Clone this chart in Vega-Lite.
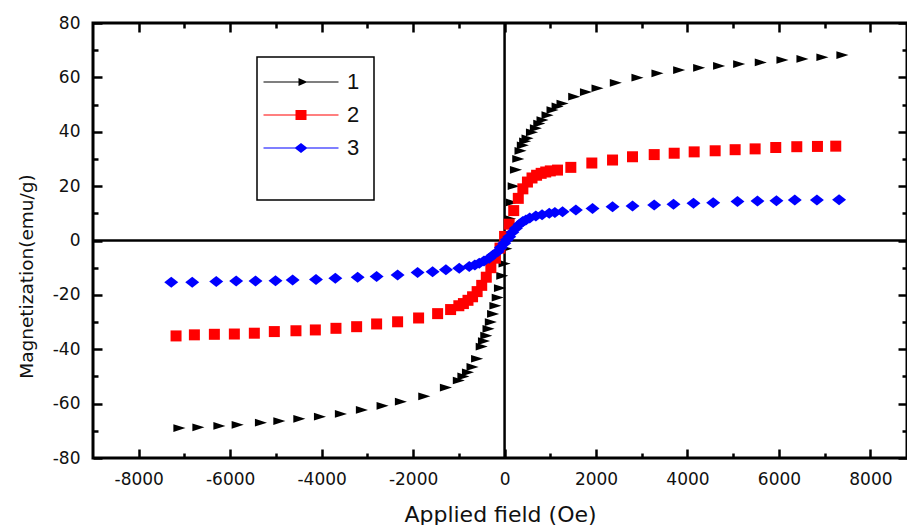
{
  "$schema": "https://vega.github.io/schema/vega-lite/v6.json",
  "width": 814,
  "height": 435,
  "autosize": {"type": "none"},
  "padding": {"left": 93, "top": 23, "right": 0, "bottom": 67},
  "background": "white",
  "config": {
    "view": {"stroke": "black", "strokeWidth": 3},
    "font": "DejaVu Sans",
    "legend": {"strokeWidth": 1.5}
  },
  "datasets": {
    "pts": [
      {"s":"1","h":-7110,"m":-69.0},{"s":"1","h":-6695,"m":-68.7},{"s":"1","h":-6236,"m":-68.2},{"s":"1","h":-5836,"m":-67.8},
      {"s":"1","h":-5327,"m":-67.0},{"s":"1","h":-4925,"m":-66.4},{"s":"1","h":-4488,"m":-65.6},{"s":"1","h":-4037,"m":-64.8},
      {"s":"1","h":-3578,"m":-63.8},{"s":"1","h":-3119,"m":-62.3},{"s":"1","h":-2667,"m":-60.8},{"s":"1","h":-2267,"m":-59.3},
      {"s":"1","h":-1755,"m":-57.3},{"s":"1","h":-1282,"m":-54.1},{"s":"1","h":-1000,"m":-51.5},{"s":"1","h":-900,"m":-50.0},
      {"s":"1","h":-800,"m":-48.5},{"s":"1","h":-700,"m":-46.5},{"s":"1","h":-600,"m":-43.5},{"s":"1","h":-500,"m":-39.0},
      {"s":"1","h":-450,"m":-37.0},{"s":"1","h":-400,"m":-35.0},{"s":"1","h":-350,"m":-32.5},{"s":"1","h":-300,"m":-30.0},
      {"s":"1","h":-250,"m":-27.0},{"s":"1","h":-200,"m":-24.0},{"s":"1","h":-150,"m":-21.0},{"s":"1","h":-100,"m":-17.5},
      {"s":"1","h":-50,"m":-13.0},{"s":"1","h":0,"m":-8.5},{"s":"1","h":40,"m":-3.0},{"s":"1","h":80,"m":2.0},
      {"s":"1","h":120,"m":8.0},{"s":"1","h":160,"m":14.0},{"s":"1","h":200,"m":20.0},{"s":"1","h":250,"m":26.0},
      {"s":"1","h":300,"m":30.0},{"s":"1","h":350,"m":33.0},{"s":"1","h":400,"m":35.0},{"s":"1","h":450,"m":36.5},
      {"s":"1","h":503,"m":37.6},{"s":"1","h":600,"m":39.8},{"s":"1","h":685,"m":41.3},{"s":"1","h":760,"m":43.0},
      {"s":"1","h":830,"m":44.3},{"s":"1","h":940,"m":46.1},{"s":"1","h":1049,"m":48.0},{"s":"1","h":1160,"m":49.3},
      {"s":"1","h":1268,"m":50.4},{"s":"1","h":1523,"m":52.9},{"s":"1","h":1780,"m":54.6},{"s":"1","h":2033,"m":56.0},
      {"s":"1","h":2433,"m":58.0},{"s":"1","h":2907,"m":59.9},{"s":"1","h":3344,"m":61.5},{"s":"1","h":3818,"m":62.7},
      {"s":"1","h":4255,"m":63.5},{"s":"1","h":4692,"m":64.2},{"s":"1","h":5130,"m":64.9},{"s":"1","h":5603,"m":65.5},
      {"s":"1","h":6077,"m":66.4},{"s":"1","h":6514,"m":66.8},{"s":"1","h":6951,"m":67.4},{"s":"1","h":7388,"m":68.2},
      {"s":"2","h":-7184,"m":-35.1},{"s":"2","h":-6783,"m":-34.7},{"s":"2","h":-6346,"m":-34.5},{"s":"2","h":-5909,"m":-34.4},
      {"s":"2","h":-5472,"m":-34.1},{"s":"2","h":-5035,"m":-33.5},{"s":"2","h":-4562,"m":-33.2},{"s":"2","h":-4138,"m":-32.9},
      {"s":"2","h":-3687,"m":-32.3},{"s":"2","h":-3235,"m":-31.7},{"s":"2","h":-2798,"m":-30.7},{"s":"2","h":-2339,"m":-29.9},
      {"s":"2","h":-1880,"m":-28.5},{"s":"2","h":-1464,"m":-26.9},{"s":"2","h":-1180,"m":-25.4},{"s":"2","h":-1000,"m":-24.0},
      {"s":"2","h":-900,"m":-23.2},{"s":"2","h":-800,"m":-22.0},{"s":"2","h":-700,"m":-20.7},{"s":"2","h":-600,"m":-18.8},
      {"s":"2","h":-500,"m":-16.5},{"s":"2","h":-400,"m":-13.5},{"s":"2","h":-300,"m":-10.0},{"s":"2","h":-200,"m":-6.5},
      {"s":"2","h":-100,"m":-2.8},{"s":"2","h":0,"m":1.5},{"s":"2","h":100,"m":6.0},{"s":"2","h":200,"m":11.0},
      {"s":"2","h":300,"m":15.5},{"s":"2","h":400,"m":19.0},{"s":"2","h":500,"m":21.5},{"s":"2","h":600,"m":23.0},
      {"s":"2","h":700,"m":24.0},{"s":"2","h":800,"m":24.7},{"s":"2","h":900,"m":25.2},{"s":"2","h":1000,"m":25.6},
      {"s":"2","h":1158,"m":25.9},{"s":"2","h":1449,"m":26.9},{"s":"2","h":1908,"m":28.5},{"s":"2","h":2361,"m":29.6},
      {"s":"2","h":2798,"m":30.8},{"s":"2","h":3272,"m":31.6},{"s":"2","h":3709,"m":32.1},{"s":"2","h":4146,"m":32.6},
      {"s":"2","h":4605,"m":33.0},{"s":"2","h":5042,"m":33.4},{"s":"2","h":5479,"m":33.7},{"s":"2","h":5930,"m":34.2},
      {"s":"2","h":6390,"m":34.5},{"s":"2","h":6842,"m":34.6},{"s":"2","h":7242,"m":34.7},
      {"s":"3","h":-7289,"m":-15.4},{"s":"3","h":-6830,"m":-15.4},{"s":"3","h":-6305,"m":-15.1},{"s":"3","h":-5869,"m":-14.9},
      {"s":"3","h":-5446,"m":-14.9},{"s":"3","h":-5009,"m":-14.8},{"s":"3","h":-4634,"m":-14.5},{"s":"3","h":-4124,"m":-14.3},
      {"s":"3","h":-3701,"m":-13.9},{"s":"3","h":-3213,"m":-13.5},{"s":"3","h":-2798,"m":-13.2},{"s":"3","h":-2339,"m":-12.7},
      {"s":"3","h":-1902,"m":-11.8},{"s":"3","h":-1574,"m":-11.5},{"s":"3","h":-1283,"m":-10.8},{"s":"3","h":-991,"m":-10.2},
      {"s":"3","h":-772,"m":-9.6},{"s":"3","h":-650,"m":-9.0},{"s":"3","h":-554,"m":-8.4},{"s":"3","h":-450,"m":-7.5},
      {"s":"3","h":-335,"m":-6.5},{"s":"3","h":-250,"m":-5.3},{"s":"3","h":-153,"m":-4.1},{"s":"3","h":-80,"m":-2.6},
      {"s":"3","h":-7,"m":-1.0},{"s":"3","h":50,"m":0.3},{"s":"3","h":103,"m":1.4},{"s":"3","h":170,"m":3.0},
      {"s":"3","h":247,"m":4.5},{"s":"3","h":330,"m":6.0},{"s":"3","h":400,"m":7.0},{"s":"3","h":466,"m":7.5},
      {"s":"3","h":550,"m":8.3},{"s":"3","h":684,"m":9.0},{"s":"3","h":820,"m":9.5},{"s":"3","h":977,"m":10.0},
      {"s":"3","h":1100,"m":10.3},{"s":"3","h":1268,"m":10.6},{"s":"3","h":1559,"m":11.2},{"s":"3","h":1923,"m":11.8},
      {"s":"3","h":2361,"m":12.4},{"s":"3","h":2798,"m":12.7},{"s":"3","h":3272,"m":13.1},{"s":"3","h":3694,"m":13.3},
      {"s":"3","h":4131,"m":13.7},{"s":"3","h":4562,"m":13.9},{"s":"3","h":5093,"m":14.3},{"s":"3","h":5530,"m":14.5},
      {"s":"3","h":5945,"m":14.6},{"s":"3","h":6346,"m":14.9},{"s":"3","h":6830,"m":14.9},{"s":"3","h":7315,"m":15.0}
    ]
  },
  "layer": [
    {
      "data": {"values": [{"v": 0}]},
      "mark": {"type": "rule", "color": "black", "strokeWidth": 2.5},
      "encoding": {
        "y": {
          "field": "v", "type": "quantitative",
          "scale": {"domain": [-80, 80], "nice": false, "zero": false},
          "axis": {
            "orient": "left",
            "values": [-80,-70,-60,-50,-40,-30,-20,-10,0,10,20,30,40,50,60,70,80],
            "tickSize": {"condition": {"test": "datum.value % 20 === 0", "value": -9}, "value": -5},
            "tickWidth": 2.5, "tickColor": "black", "domain": false, "grid": false,
            "labelExpr": "datum.value % 20 === 0 ? '' + datum.value : ''",
            "labelFont": "DejaVu Sans", "labelFontSize": 17, "labelColor": "#111",
            "labelPadding": 22, "labelFlush": false, "labelOverlap": false,
            "title": "Magnetization(emu/g)",
            "titleFont": "DejaVu Sans", "titleFontSize": 18.5, "titleFontWeight": "normal", "titleColor": "#111",
            "titlePadding": 13, "titleY": 253, "titleX": -57
          }
        }
      }
    },
    {
      "data": {"values": [{"v": 0}]},
      "mark": {"type": "rule", "color": "black", "strokeWidth": 2.5},
      "encoding": {
        "x": {
          "field": "v", "type": "quantitative",
          "scale": {"domain": [-9000, 8800], "nice": false, "zero": false},
          "axis": {
            "orient": "bottom",
            "values": [-8000,-7000,-6000,-5000,-4000,-3000,-2000,-1000,0,1000,2000,3000,4000,5000,6000,7000,8000],
            "tickSize": {"condition": {"test": "datum.value % 2000 === 0", "value": -9}, "value": -5},
            "tickWidth": 2.5, "tickColor": "black", "domain": false, "grid": false,
            "labelExpr": "datum.value % 2000 === 0 ? '' + datum.value : ''",
            "labelFont": "DejaVu Sans", "labelFontSize": 17, "labelColor": "#111",
            "labelPadding": 22, "labelFlush": false, "labelOverlap": false,
            "title": "Applied field (Oe)",
            "titleFont": "DejaVu Sans", "titleFontSize": 22, "titleFontWeight": "normal", "titleColor": "#111",
            "titlePadding": 13
          }
        }
      }
    },
    {
      "data": {"name": "pts"},
      "transform": [{"filter": "datum.s === '1'"}],
      "mark": {"type": "point", "filled": true, "opacity": 1, "size": 121, "shape": "M-1.1,-0.7L1.1,0L-1.1,0.7Z"},
      "encoding": {
        "x": {
          "field": "h", "type": "quantitative",
          "scale": {"domain": [-9000, 8800], "nice": false, "zero": false},
          "axis": {
            "orient": "top",
            "values": [-8000,-7000,-6000,-5000,-4000,-3000,-2000,-1000,0,1000,2000,3000,4000,5000,6000,7000,8000],
            "tickSize": {"condition": {"test": "datum.value % 2000 === 0", "value": -9}, "value": -5},
            "tickWidth": 2.5, "tickColor": "black", "domain": false, "grid": false,
            "labels": false, "title": null
          }
        },
        "y": {
          "field": "m", "type": "quantitative",
          "scale": {"domain": [-80, 80], "nice": false, "zero": false},
          "axis": {
            "orient": "right",
            "values": [-80,-70,-60,-50,-40,-30,-20,-10,0,10,20,30,40,50,60,70,80],
            "tickSize": {"condition": {"test": "datum.value % 20 === 0", "value": -9}, "value": -5},
            "tickWidth": 2.5, "tickColor": "black", "domain": false, "grid": false,
            "labels": false, "title": null
          }
        },
        "color": {
          "field": "s", "type": "nominal",
          "scale": {"domain": ["1", "2", "3"], "range": ["#000000", "#ff0000", "#0000ff"]},
          "legend": {
            "orient": "none", "legendX": 164, "legendY": 34,
            "title": " ", "titleOrient": "bottom", "titleFontSize": 22, "titlePadding": 6,
            "strokeColor": "black", "fillColor": "white",
            "padding": 14, "rowPadding": 11,
            "labelFont": "Liberation Sans", "labelFontSize": 22, "labelColor": "#111",
            "symbolSize": 100, "symbolOffset": 19, "labelOffset": 35,
            "symbolType": {"expr": "datum.value === '1' ? 'M-7.5,-0.11H7.5V0.11H-7.5ZM-0.5,-0.8L1.3,0L-0.5,0.8Z' : datum.value === '2' ? 'M-7.5,-0.11H7.5V0.11H-7.5ZM-1.1,-1L1.1,-1L1.1,1L-1.1,1Z' : 'M-7.5,-0.11H7.5V0.11H-7.5ZM-1.3,0L0,-1L1.3,0L0,1Z'"}
          }
        }
      }
    },
    {
      "data": {"name": "pts"},
      "transform": [{"filter": "datum.s === '2'"}],
      "mark": {"type": "point", "filled": true, "opacity": 1, "size": 121, "shape": "square"},
      "encoding": {
        "x": {"field": "h", "type": "quantitative", "scale": {"domain": [-9000, 8800], "nice": false, "zero": false}, "axis": null},
        "y": {"field": "m", "type": "quantitative", "scale": {"domain": [-80, 80], "nice": false, "zero": false}, "axis": null},
        "color": {
          "field": "s", "type": "nominal",
          "scale": {"domain": ["1", "2", "3"], "range": ["#000000", "#ff0000", "#0000ff"]},
          "legend": {
            "orient": "none", "legendX": 164, "legendY": 34,
            "title": " ", "titleOrient": "bottom", "titleFontSize": 22, "titlePadding": 6,
            "strokeColor": "black", "fillColor": "white",
            "padding": 14, "rowPadding": 11,
            "labelFont": "Liberation Sans", "labelFontSize": 22, "labelColor": "#111",
            "symbolSize": 100, "symbolOffset": 19, "labelOffset": 35,
            "symbolType": {"expr": "datum.value === '1' ? 'M-7.5,-0.11H7.5V0.11H-7.5ZM-0.5,-0.8L1.3,0L-0.5,0.8Z' : datum.value === '2' ? 'M-7.5,-0.11H7.5V0.11H-7.5ZM-1.1,-1L1.1,-1L1.1,1L-1.1,1Z' : 'M-7.5,-0.11H7.5V0.11H-7.5ZM-1.3,0L0,-1L1.3,0L0,1Z'"}
          }
        }
      }
    },
    {
      "data": {"name": "pts"},
      "transform": [{"filter": "datum.s === '3'"}],
      "mark": {"type": "point", "filled": true, "opacity": 1, "size": 121, "shape": "M-1.27,0L0,-1L1.27,0L0,1Z"},
      "encoding": {
        "x": {"field": "h", "type": "quantitative", "scale": {"domain": [-9000, 8800], "nice": false, "zero": false}, "axis": null},
        "y": {"field": "m", "type": "quantitative", "scale": {"domain": [-80, 80], "nice": false, "zero": false}, "axis": null},
        "color": {
          "field": "s", "type": "nominal",
          "scale": {"domain": ["1", "2", "3"], "range": ["#000000", "#ff0000", "#0000ff"]},
          "legend": {
            "orient": "none", "legendX": 164, "legendY": 34,
            "title": " ", "titleOrient": "bottom", "titleFontSize": 22, "titlePadding": 6,
            "strokeColor": "black", "fillColor": "white",
            "padding": 14, "rowPadding": 11,
            "labelFont": "Liberation Sans", "labelFontSize": 22, "labelColor": "#111",
            "symbolSize": 100, "symbolOffset": 19, "labelOffset": 35,
            "symbolType": {"expr": "datum.value === '1' ? 'M-7.5,-0.11H7.5V0.11H-7.5ZM-0.5,-0.8L1.3,0L-0.5,0.8Z' : datum.value === '2' ? 'M-7.5,-0.11H7.5V0.11H-7.5ZM-1.1,-1L1.1,-1L1.1,1L-1.1,1Z' : 'M-7.5,-0.11H7.5V0.11H-7.5ZM-1.3,0L0,-1L1.3,0L0,1Z'"}
          }
        }
      }
    }
  ],
  "resolve": {"axis": {"x": "independent", "y": "independent"}}
}
